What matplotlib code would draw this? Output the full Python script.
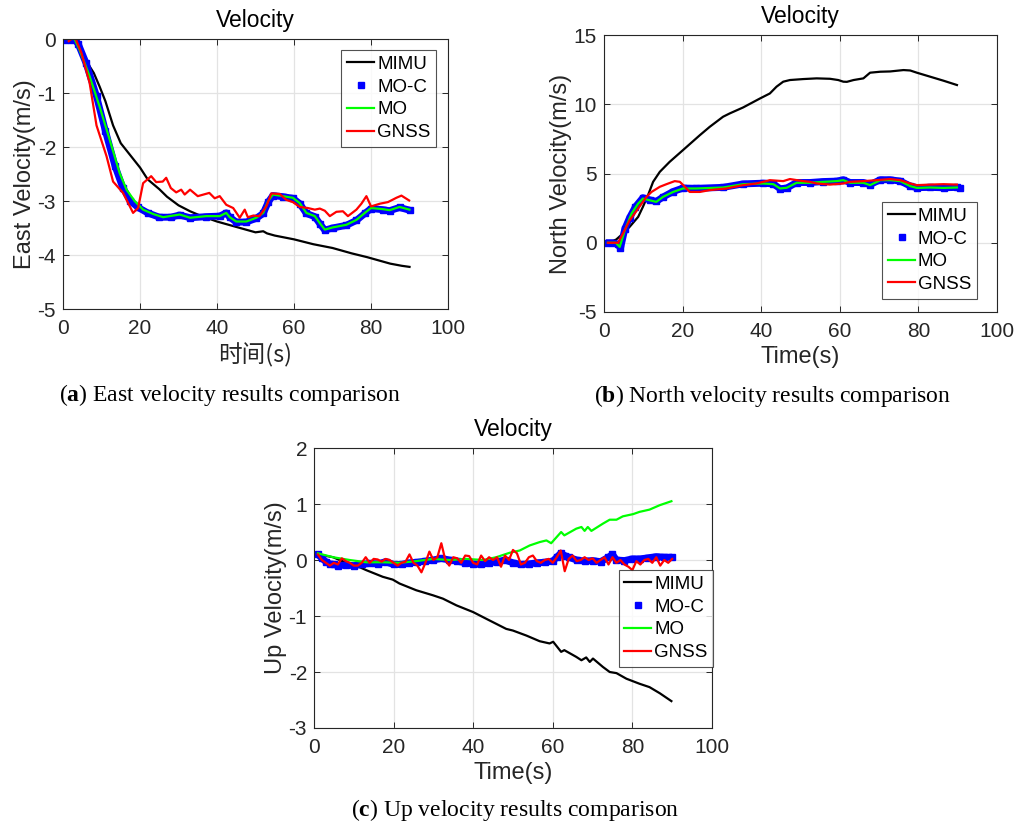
import matplotlib
matplotlib.use("Agg")
from matplotlib import pyplot as plt

plt.rcParams["font.family"] = ["Liberation Sans", "DejaVu Sans"]
plt.rcParams["axes.unicode_minus"] = False
plt.rcParams["mathtext.fontset"] = "custom"
plt.rcParams["mathtext.rm"] = "Liberation Serif"
plt.rcParams["mathtext.bf"] = "Liberation Serif:bold"

# ---- (a) East velocity ----
t_a_mimu = [1, 3, 5, 8, 9.5, 11, 13, 15, 18, 20, 22, 25, 27, 30, 33, 36, 40, 45, 50, 52, 53,
            55, 60, 65, 70, 75, 79, 82, 85, 88, 90]
v_a_mimu = [0, 0, -0.29, -0.63, -0.88, -1.15, -1.6, -1.93, -2.2, -2.38, -2.6, -2.78, -2.92, -3.08,
            -3.19, -3.28, -3.38, -3.48, -3.58, -3.56, -3.6, -3.64, -3.71, -3.8, -3.87, -3.97, -4.04,
            -4.1, -4.16, -4.2, -4.22]
t_a_moc = [0.5, 2, 3, 4, 6, 8.7, 11, 13.5, 15.5, 17.5, 19.5, 22, 25, 28, 30.3, 33, 37.2, 40.7,
           42.4, 43.3, 45, 47.6, 50.2, 52, 53.3, 54.5, 57.1, 59.7, 61.5, 63.2, 65.4, 66.7, 68, 70,
           73.6, 76.2, 78.4, 80, 83, 84.8, 87.4, 90]
v_a_moc = [-0.02, -0.01, 0, -0.1, -0.45, -1.06, -1.7, -2.35, -2.75, -3.0, -3.12, -3.22, -3.3, -3.3,
           -3.26, -3.31, -3.29, -3.28, -3.22, -3.3, -3.39, -3.39, -3.32, -3.23, -3.02, -2.9, -2.92,
           -2.95, -3.05, -3.23, -3.29, -3.42, -3.54, -3.5, -3.45, -3.36, -3.23, -3.14, -3.16, -3.18,
           -3.12, -3.17]
t_a_mo = [1, 3, 4.3, 6.9, 9.5, 12.1, 14.7, 16.5, 18.6, 20.8, 23.4, 26, 30.3, 33, 37.2, 40.7, 42.4,
          43.3, 45, 47.6, 50.2, 52, 53.3, 54.5, 57.1, 59.7, 61.5, 63.2, 65.4, 66.7, 68, 70, 73.6,
          76.2, 78.4, 80, 83, 84.8, 87.4, 90]
v_a_mo = [0, 0, -0.2, -0.69, -1.25, -1.86, -2.48, -2.79, -3.0, -3.16, -3.24, -3.3, -3.25, -3.31,
          -3.28, -3.28, -3.22, -3.3, -3.38, -3.38, -3.31, -3.22, -3.0, -2.88, -2.91, -2.94, -3.04,
          -3.22, -3.28, -3.41, -3.53, -3.49, -3.44, -3.35, -3.22, -3.13, -3.15, -3.17, -3.11, -3.16]
t_a_gnss = [1.5, 2.5, 3.3, 4.8, 6.9, 8.7, 11.3, 13, 15.6, 18.2, 19.5, 20.8, 22.9, 24.2, 25.9, 26.8,
            28, 29.4, 30.7, 31.6, 33, 35, 38, 39.4, 40.7, 42.4, 44.2, 45.9, 47.2, 48, 49.4, 51,
            52.8, 54.1, 56.3, 58, 59.7, 61.5, 63.6, 65.4, 66.7, 68, 69.3, 71, 72.7, 74, 76.2, 77.5,
            78.8, 80, 82.3, 84.4, 86.6, 87.9, 89.9]
v_a_gnss = [-0.04, 0.02, 0.0, -0.26, -0.81, -1.6, -2.17, -2.64, -2.85, -3.22, -3.13, -2.67, -2.54,
            -2.65, -2.64, -2.57, -2.76, -2.84, -2.79, -2.88, -2.79, -2.91, -2.85, -2.95, -2.91,
            -3.07, -3.13, -3.31, -3.16, -3.3, -3.27, -3.28, -3.10, -2.86, -2.87, -2.98, -3.02,
            -3.11, -3.13, -3.16, -3.14, -3.18, -3.28, -3.2, -3.19, -3.28, -3.16, -3.05, -2.91,
            -3.10, -3.05, -3.02, -2.94, -2.9, -2.99]

# ---- (b) North velocity ----
t_b_mimu = [1, 3.1, 4.8, 6.5, 8.7, 9.9, 11.2, 12.5, 14.2, 16.7, 20.1, 24.4, 26.9, 30.3, 32, 35.4,
            39.7, 42.2, 43.9, 45.6, 47.3, 50.7, 54.1, 57.5, 59.6, 60.9, 61.8, 63.5, 66, 67.7,
            70.3, 72.8, 76.2, 77.9, 79.6, 83, 86.4, 89.8]
v_b_mimu = [0, 0.23, 0.66, 1.14, 1.87, 2.59, 3.43, 4.4, 5.12, 5.84, 6.69, 7.77, 8.37, 9.1, 9.34,
            9.77, 10.42, 10.78, 11.27, 11.63, 11.75, 11.82, 11.87, 11.84, 11.75, 11.63, 11.62,
            11.75, 11.87, 12.28, 12.35, 12.37, 12.47, 12.44, 12.28, 11.99, 11.70, 11.39]
t_b_moc = [0.5, 2, 3.5, 4.2, 5.3, 6.5, 8, 9.9, 11.6, 13.3, 15, 17.6, 20.1, 23.5, 30.3, 35.4, 40.5,
           43.1, 44.8, 46.5, 49, 52.4, 55.8, 59.2, 60.9, 62.6, 66, 67.7, 70.3, 72.8, 75.4, 77.9,
           79.6, 83, 86.4, 89.8, 90.5]
v_b_moc = [0, 0, -0.1, -0.4, 1.0, 1.8, 2.6, 3.25, 3.1, 2.98, 3.3, 3.7, 3.95, 3.93, 4.0, 4.25, 4.3,
           4.25, 3.9, 3.95, 4.35, 4.35, 4.42, 4.45, 4.55, 4.35, 4.35, 4.2, 4.55, 4.55, 4.45, 4.1,
           3.98, 4.0, 3.97, 4.0, 3.95]
t_b_mo = [1, 3, 4, 5.3, 7, 8.7, 9.9, 11.6, 13.3, 15, 17.6, 20.1, 23.5, 30.3, 35.4, 40.5, 43.1,
          44.8, 46.5, 49, 52.4, 55.8, 59.2, 60.9, 62.6, 66, 67.7, 70.3, 72.8, 75.4, 77.9, 79.6,
          83, 86.4, 89.8]
v_b_mo = [0, 0, -0.3, 0.9, 2.1, 2.83, 3.19, 3.07, 2.95, 3.31, 3.67, 3.92, 3.92, 3.99, 4.23, 4.28,
          4.23, 3.92, 3.97, 4.33, 4.33, 4.4, 4.45, 4.52, 4.33, 4.33, 4.16, 4.52, 4.52, 4.45, 4.09,
          3.96, 3.99, 3.96, 3.99]
t_b_gnss = [1, 3.6, 4.8, 6.5, 8.7, 10.8, 12.1, 14.2, 15.9, 18, 19.3, 20.6, 21.8, 24.4, 26.9, 31.2,
            35.4, 38.8, 40.5, 42.2, 45.6, 47.3, 50.7, 52.4, 54.1, 57.5, 60.9, 62.6, 66, 69.4,
            72.8, 75.4, 77.9, 79.6, 83, 86.4, 89.8]
v_b_gnss = [0, 0, 0.66, 1.6, 2.47, 3.31, 3.67, 4.04, 4.23, 4.45, 4.4, 4.04, 3.67, 3.67, 3.8, 3.92,
            4.16, 4.28, 4.4, 4.52, 4.45, 4.6, 4.45, 4.4, 4.28, 4.2, 4.28, 4.4, 4.45, 4.52, 4.6,
            4.52, 4.28, 4.16, 4.2, 4.23, 4.2]

# ---- (c) Up velocity ----
t_c_mimu = [1, 4.8, 8.1, 10.6, 13.1, 17.3, 19.8, 21.5, 25.7, 29.9, 32.4, 35.8, 40, 43.3, 45.8,
            48.3, 50, 53.4, 56.7, 59.2, 60.1, 62.1, 62.9, 65.9, 67.2, 68.4, 69.3, 70.1, 72.6,
            74.3, 76, 78.5, 81.8, 84.3, 86.9, 89.8]
v_c_mimu = [0.1, 0.05, -0.05, -0.1, -0.18, -0.3, -0.35, -0.42, -0.54, -0.63, -0.69, -0.81, -0.93,
            -1.05, -1.14, -1.23, -1.26, -1.35, -1.45, -1.49, -1.46, -1.64, -1.61, -1.73, -1.79,
            -1.74, -1.82, -1.76, -1.91, -2.0, -2.02, -2.12, -2.21, -2.27, -2.38, -2.52]
t_c_moc = [1, 2, 3, 4, 5, 6, 8, 10, 12, 14, 16, 18, 20, 22, 24, 26, 28, 30, 32, 34, 36, 38, 40, 42,
           44, 46, 48, 50, 52, 54, 56, 58, 60, 61, 62, 63, 64, 66, 68, 70, 72, 74, 75, 76, 78, 80,
           82, 84, 86, 88, 90]
v_c_moc = [0.1, 0.03, -0.03, -0.07, -0.08, -0.1, -0.09, -0.1, -0.08, -0.06, -0.07, -0.03, -0.08,
           -0.08, -0.05, -0.04, -0.02, 0.0, 0.03, 0.0, -0.02, -0.05, -0.07, -0.08, -0.05, -0.03,
           0.0, -0.05, -0.08, -0.07, -0.05, -0.04, -0.02, 0.05, 0.12, 0.08, 0.05, 0.0, -0.02,
           -0.01, -0.03, 0.05, 0.1, 0.0, -0.01, 0.02, 0.02, 0.04, 0.06, 0.05, 0.05]
t_c_mo = [1, 4.8, 9, 13.1, 17.3, 21.5, 25.7, 29.9, 34.1, 38.3, 42.5, 45.8, 49.2, 51.7, 54.2, 56.7,
          58.4, 59.6, 62.1, 62.9, 65.9, 67.2, 68, 68.8, 69.7, 72.6, 74.3, 76, 77.6, 80.2, 81.8,
          84.3, 86.9, 89.8]
v_c_mo = [0.12, 0.05, 0, -0.04, -0.04, -0.05, -0.02, 0.02, 0.0, 0.02, 0.0, 0.05, 0.13, 0.17, 0.26,
          0.32, 0.35, 0.30, 0.5, 0.44, 0.56, 0.59, 0.52, 0.59, 0.52, 0.65, 0.72, 0.72, 0.78, 0.82,
          0.86, 0.9, 0.98, 1.05]
t_c_gnss = list(range(1, 91))
v_c_gnss = [0.1, 0.0, -0.05, -0.1, -0.05, -0.08, 0.03, -0.02, -0.05, -0.1, -0.1, -0.05, 0.05,
            -0.05, 0.02, 0.01, -0.03, 0.02, 0.0, -0.05, -0.1, -0.05, -0.03, 0.1, -0.05, -0.1,
            -0.22, -0.05, 0.15, 0.0, 0.05, 0.3, 0.0, -0.1, 0.05, 0.03, -0.05, 0.08, 0.07, -0.05,
            -0.08, 0.08, -0.02, 0.05, 0.0, 0.05, -0.12, 0.08, 0.0, 0.18, 0.12, -0.08, -0.05, 0.05,
            0.08, -0.02, -0.05, 0.0, 0.02, -0.05, 0.05, 0.17, -0.2, 0.02, 0.08, -0.02, 0.0, 0.05,
            0.0, 0.03, -0.05, 0.0, 0.05, -0.08, 0.05, -0.05, 0.0, -0.08, -0.12, -0.18, -0.02,
            -0.08, 0.0, 0.02, -0.05, 0.05, -0.1, 0.0, -0.05, 0.02]

labels = ["MIMU", "MO-C", "MO", "GNSS"]
dark = "#262626"

fig = plt.figure(figsize=(10.18, 8.30), dpi=100)


def panel(rect, series, ylim, yticks, ylabel, xlabel, xfont, legend_anchor, caption, cap_xy):
    ax = fig.add_axes(rect)
    (tm, vm), (tc, vc), (to, vo), (tg, vg) = series
    ax.plot(tm, vm, color="black", lw=1.6, label=labels[0])
    ax.plot(tc, vc, color="blue", lw=5, solid_capstyle="butt", label="_nolegend_")
    ax.plot(tc, vc, "s", color="blue", ms=5, label=labels[1])
    ax.plot(to, vo, color="#00ff00", lw=1.6, label=labels[2])
    ax.plot(tg, vg, color="red", lw=1.6, label=labels[3])
    ax.set_xlim(0, 100)
    ax.set_ylim(*ylim)
    ax.set_xticks(range(0, 101, 20))
    ax.set_yticks(yticks)
    ax.grid(True, color="#e3e3e3", lw=0.9)
    ax.set_axisbelow(True)
    ax.tick_params(direction="in", top=True, right=True, labelsize=15, colors=dark,
                   length=4, width=0.7)
    ax.tick_params(axis="x", pad=7)
    ax.tick_params(axis="y", pad=5)
    for s in ax.spines.values():
        s.set_color(dark)
        s.set_linewidth(0.8)
    ax.set_title("Velocity", fontsize=16.5, color="black", pad=9)
    ax.set_ylabel(ylabel, fontsize=17, color=dark, labelpad=1)
    ax.set_xlabel(xlabel, fontsize=17, color=dark, labelpad=4, family=xfont)
    leg = ax.legend(loc="upper right", bbox_to_anchor=legend_anchor, borderaxespad=0,
                    fontsize=13.5, frameon=True, fancybox=False, handlelength=1.45,
                    handletextpad=0.15, borderpad=0.3, labelspacing=0.3)
    leg.get_frame().set_edgecolor(dark)
    leg.get_frame().set_linewidth(0.8)
    fig.text(cap_xy[0], cap_xy[1], caption, ha="center", va="center", fontsize=17,
             family="Liberation Serif")
    return ax


panel([0.0619, 0.6277, 0.3782, 0.3253],
      [(t_a_mimu, v_a_mimu), (t_a_moc, v_a_moc), (t_a_mo, v_a_mo), (t_a_gnss, v_a_gnss)],
      (-5, 0), range(-5, 1), "East Velocity(m/s)", "时间(s)",
      ["Noto Sans CJK SC", "DejaVu Sans"], (0.969, 0.959),
      r"($\mathbf{a}$) East velocity results comparison", (230 / 1018, 1 - 395 / 830))
panel([0.5933, 0.6241, 0.3861, 0.3337],
      [(t_b_mimu, v_b_mimu), (t_b_moc, v_b_moc), (t_b_mo, v_b_mo), (t_b_gnss, v_b_gnss)],
      (-5, 15), range(-5, 16, 5), "North Velocity(m/s)", "Time(s)",
      ["Liberation Sans", "DejaVu Sans"], (0.949, 0.397),
      r"($\mathbf{b}$) North velocity results comparison", (773 / 1018, 1 - 396 / 830))
panel([0.3084, 0.1229, 0.3910, 0.3373],
      [(t_c_mimu, v_c_mimu), (t_c_moc, v_c_moc), (t_c_mo, v_c_mo), (t_c_gnss, v_c_gnss)],
      (-3, 2), range(-3, 3), "Up Velocity(m/s)", "Time(s)",
      ["Liberation Sans", "DejaVu Sans"], (1.003, 0.564),
      r"($\mathbf{c}$) Up velocity results comparison", (515 / 1018, 1 - 810 / 830))

fig.savefig("out.png", dpi=100)
